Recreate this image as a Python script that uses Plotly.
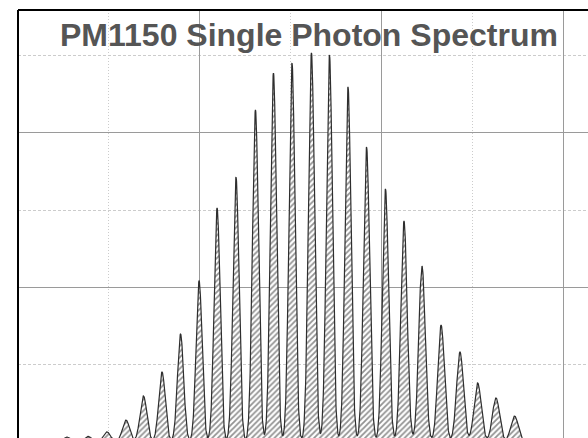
import numpy as np
import plotly.graph_objects as go

# ---- data ----
title_text = "PM1150 Single Photon Spectrum"

# peak positions (ADC channel), peak heights (counts), peak widths (channels)
peak_channel = [26.9, 38.5, 48.9, 59.4, 69.0, 79.2, 89.4, 99.6, 109.5, 119.9,
                130.6, 140.5, 150.7, 161.4, 171.3, 181.5, 191.7, 202.1, 212.3,
                222.2, 232.7, 243.1, 252.8, 262.9, 273.1]
peak_counts = [32, 36, 65, 142, 298, 453, 699, 1042, 1515, 1715,
               2149, 2388, 2453, 2518, 2505, 2298, 1909, 1638, 1430,
               1139, 757, 583, 382, 285, 168]
peak_sigma = [2.0, 2.0, 2.0, 2.0, 1.9, 1.8, 1.7, 1.65, 1.65, 1.65,
              1.65, 1.65, 1.65, 1.65, 1.65, 1.65, 1.7, 1.7, 1.75,
              1.8, 1.85, 1.9, 2.0, 2.0, 2.1]

x_range = [0, 313.5]
y_range = [25.9, 2796]

# histogram contents built from the read peaks
x = np.arange(0.0, 305.0, 0.1)
y = np.zeros_like(x)
for c, h, s in zip(peak_channel, peak_counts, peak_sigma):
    y += h * np.exp(-0.5 * ((x - c) / s) ** 2)

fig = go.Figure()
fig.add_trace(go.Scatter(
    x=x, y=y, mode="lines",
    line=dict(color="#2e2e2e", width=1.2),
    fill="tozeroy",
    fillcolor="rgba(0,0,0,0)",
    fillpattern=dict(shape="/", fgcolor="#262626", bgcolor="white", size=4, solidity=0.45),
    hoverinfo="skip",
))

fig.update_xaxes(
    range=x_range, tick0=0, dtick=100,
    showgrid=True, gridcolor="#9a9a9a", gridwidth=1,
    minor=dict(tick0=0, dtick=50, showgrid=True, gridcolor="#cccccc",
               griddash="1px,2px", gridwidth=1),
    showticklabels=False, ticks="", zeroline=False, showline=False,
)
fig.update_yaxes(
    range=y_range, tick0=0, dtick=1000,
    showgrid=True, gridcolor="#9a9a9a", gridwidth=1,
    minor=dict(tick0=0, dtick=500, showgrid=True, gridcolor="#cccccc",
               griddash="3px,2px", gridwidth=1),
    showticklabels=False, ticks="", zeroline=False, showline=False,
)

fig.add_shape(type="line", xref="paper", yref="paper", x0=0, x1=0, y0=0, y1=1,
              line=dict(color="black", width=2), layer="above")
fig.add_shape(type="line", xref="paper", yref="paper", x0=0, x1=1, y0=1, y1=1,
              line=dict(color="black", width=2), layer="above")

fig.add_annotation(
    text=title_text, xref="paper", yref="paper", x=0.5114, y=0.988,
    xanchor="center", yanchor="top", showarrow=False,
    font=dict(family="Liberation Sans, Arial, sans-serif", size=32, color="#555555", weight="bold"),
)

fig.update_layout(
    width=588, height=438,
    margin=dict(l=18, r=0, t=10, b=0),
    paper_bgcolor="white", plot_bgcolor="white",
    showlegend=False,
)

fig.write_html(
    "out.html",
    post_script="document.documentElement.style.overflow='hidden';"
                "document.body.style.overflow='hidden';"
                "document.body.style.margin='0';",
)
